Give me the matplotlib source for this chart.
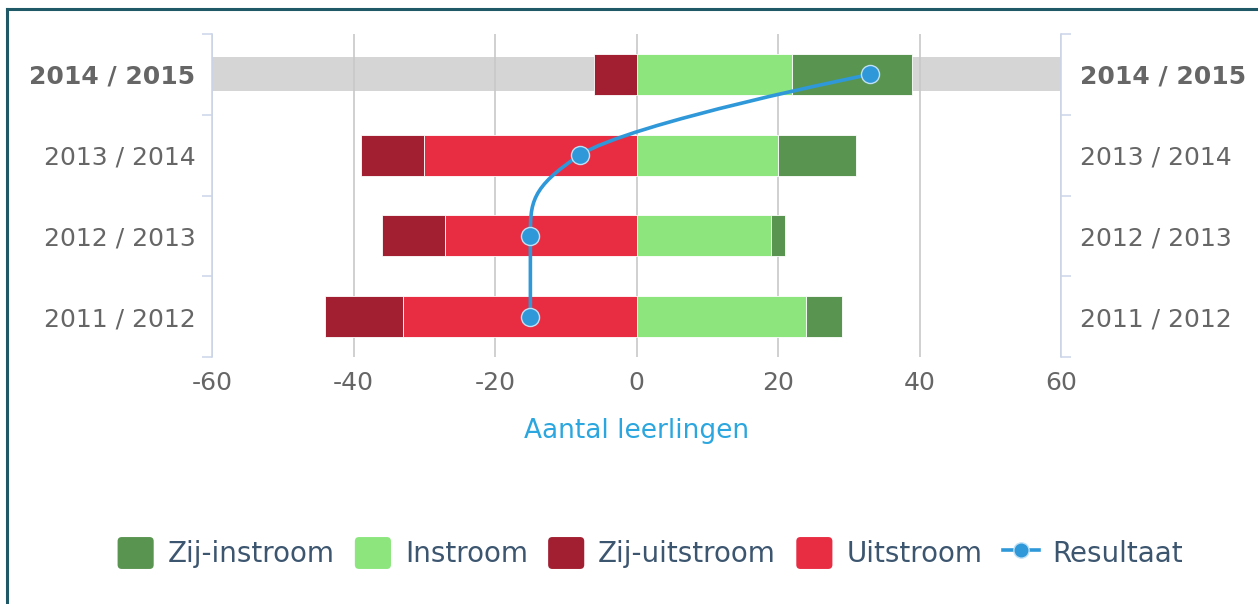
import matplotlib
matplotlib.use("Agg")
import matplotlib.pyplot as plt
from matplotlib.patches import Patch, PathPatch, FancyBboxPatch
from matplotlib.lines import Line2D
from matplotlib.path import Path
from matplotlib.legend_handler import HandlerPatch
import numpy as np

# Data (bottom to top)
years = ["2011 / 2012", "2012 / 2013", "2013 / 2014", "2014 / 2015"]
zijInstroom = [5, 2, 11, 17]
instroom = [24, 19, 20, 22]
zijUitstroom = [11, 9, 9, 6]
uitstroom = [33, 27, 30, 0]
resultaat = [-15, -15, -8, 33]
highlightYear = "2014 / 2015"
xTicks = [-60, -40, -20, 0, 20, 40, 60]

cZijIn = "#599550"
cIn = "#8ce67d"
cZijUit = "#a21f31"
cUit = "#e82d43"
cRes = "#2f98d9"
textGray = "#666666"
legendText = "#3d5670"


# Highcharts-style spline control points for one series.
def splinePath(xs, ys, smoothing=1.5):
    """`splinePath` returns the cubic bezier vertices through the points."""
    n = len(xs)
    leftC = [None] * n
    rightC = [None] * n
    denom = smoothing + 1
    for i in range(1, n - 1):
        lx, ly = xs[i - 1], ys[i - 1]
        px, py = xs[i], ys[i]
        nx, ny = xs[i + 1], ys[i + 1]
        lcx = (smoothing * px + lx) / denom
        lcy = (smoothing * py + ly) / denom
        rcx = (smoothing * px + nx) / denom
        rcy = (smoothing * py + ny) / denom
        corr = ((rcy - lcy) * (rcx - px)) / (rcx - lcx) + py - rcy
        lcy += corr
        rcy += corr
        if lcy > ly and lcy > py:
            lcy = max(ly, py)
            rcy = 2 * py - lcy
        elif lcy < ly and lcy < py:
            lcy = min(ly, py)
            rcy = 2 * py - lcy
        if rcy > ny and rcy > py:
            rcy = max(ny, py)
            lcy = 2 * py - rcy
        elif rcy < ny and rcy < py:
            rcy = min(ny, py)
            lcy = 2 * py - rcy
        leftC[i] = (lcx, lcy)
        rightC[i] = (rcx, rcy)
    verts = [(xs[0], ys[0])]
    codes = [Path.MOVETO]
    for i in range(1, n):
        c1 = rightC[i - 1] or (xs[i - 1], ys[i - 1])
        c2 = leftC[i] or (xs[i], ys[i])
        verts += [c1, c2, (xs[i], ys[i])]
        codes += [Path.CURVE4] * 3
    return verts, codes


# Rounded legend squares.
def roundedBox(legend, orig_handle, xdescent, ydescent, width, height, fontsize):
    return FancyBboxPatch((-xdescent, -ydescent), width, height,
                          boxstyle="round,pad=0,rounding_size=3")


fig = plt.figure(figsize=(12.58, 6.04), dpi=100)
ax = fig.add_axes([212 / 1258, 1 - 357 / 604, (1061 - 212) / 1258, (357 - 34) / 604])

pos = np.arange(len(years))
barH = 0.51

hi = years.index(highlightYear)
ax.axhspan(hi - 0.21, hi + 0.21, color="#d5d5d5", zorder=0, lw=0)

ax.barh(pos, instroom, height=barH, color=cIn, edgecolor="white", lw=0.6, zorder=2)
ax.barh(pos, zijInstroom, left=instroom, height=barH, color=cZijIn, edgecolor="white", lw=0.6, zorder=2)
ax.barh(pos, [-u for u in uitstroom], height=barH, color=cUit, edgecolor="white", lw=0.6, zorder=2)
ax.barh(pos, [-z for z in zijUitstroom], left=[-u for u in uitstroom], height=barH,
        color=cZijUit, edgecolor="white", lw=0.6, zorder=2)

# Resultaat spline (value on x, category on y)
verts, codes = splinePath(list(pos), resultaat)
verts = [(v, c) for c, v in verts]
ax.add_patch(PathPatch(Path(verts, codes), fill=False, edgecolor=cRes, lw=2.6, zorder=3,
                       capstyle="round"))
ax.plot(resultaat, pos, ls="none", marker="o", ms=13, mfc=cRes, mec="#bfe0f5", mew=1, zorder=4)

ax.set_xlim(-60, 60)
ax.set_ylim(-0.5, len(years) - 0.5)

ax.set_xticks(xTicks)
ax.set_xticklabels([str(t) for t in xTicks])
ax.tick_params(axis="x", length=0, pad=10, labelsize=18, labelcolor=textGray)
ax.grid(axis="x", color="#c8c8c8", lw=1.2, zorder=1)
ax.set_axisbelow(True)

ax.set_yticks(pos)
ax.set_yticklabels(years)
ax.set_yticks(np.arange(-0.5, len(years)), minor=True)
ax.tick_params(axis="y", which="major", length=0, pad=12, labelsize=18, labelcolor=textGray)
ax.tick_params(axis="y", which="minor", length=7, width=1.1, color="#ccd6eb")

ax.set_xlabel("Aantal leerlingen", fontsize=19, color="#2ba6de", labelpad=17)

for s in ["top", "bottom"]:
    ax.spines[s].set_visible(False)
for s in ["left", "right"]:
    ax.spines[s].set_color("#ccd6eb")
    ax.spines[s].set_linewidth(1.2)

ax2 = ax.twinx()
ax2.set_ylim(ax.get_ylim())
ax2.set_yticks(pos)
ax2.set_yticklabels(years)
ax2.set_yticks(np.arange(-0.5, len(years)), minor=True)
ax2.tick_params(axis="y", which="major", length=0, pad=14, labelsize=18, labelcolor=textGray)
ax2.tick_params(axis="y", which="minor", length=7, width=1.1, color="#ccd6eb")
for s in ["top", "bottom", "left", "right"]:
    ax2.spines[s].set_visible(False)

for lbl in ax.get_yticklabels() + ax2.get_yticklabels():
    if lbl.get_text() == highlightYear:
        lbl.set_fontweight("bold")

handles = [
    Patch(facecolor=cZijIn, label="Zij-instroom"),
    Patch(facecolor=cIn, label="Instroom"),
    Patch(facecolor=cZijUit, label="Zij-uitstroom"),
    Patch(facecolor=cUit, label="Uitstroom"),
    Line2D([], [], color=cRes, lw=2.6, marker="o", ms=11, mfc=cRes, mec="#bfe0f5", label="Resultaat"),
]
leg = fig.legend(handles=handles, loc="center", bbox_to_anchor=(0.517, 1 - 553 / 604), ncol=5,
                 frameon=False, fontsize=20, handlelength=1.3, handleheight=1.39,
                 handletextpad=0.5, columnspacing=0.73,
                 handler_map={Patch: HandlerPatch(patch_func=roundedBox)})
for t in leg.get_texts():
    t.set_color(legendText)

# container border
fig.add_artist(Line2D([7 / 1258, 7 / 1258], [0, 1 - 9 / 604], color="#1f5866", lw=2.2))
fig.add_artist(Line2D([7 / 1258, 1], [1 - 9 / 604, 1 - 9 / 604], color="#1f5866", lw=2.2))

fig.savefig("out.png", dpi=100)
